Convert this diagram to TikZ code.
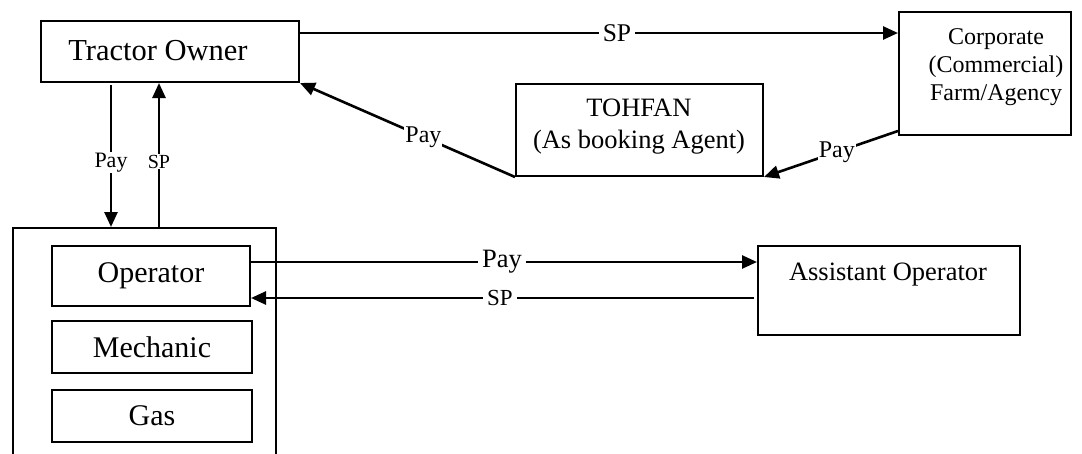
\documentclass[tikz,border=0pt]{standalone}
\usepackage{fontspec}
\setmainfont{Liberation Serif}
\usetikzlibrary{arrows.meta}
\newcommand{\fs}[1]{\fontsize{#1}{#1}\selectfont}
\begin{document}
\begin{tikzpicture}[x=1pt,y=-1pt,
  box/.style={draw,line width=2pt,rectangle,inner sep=0pt},
  txt/.style={inner sep=0pt,align=center},
  arr/.style={line width=2.6pt,-{Triangle[length=15pt,width=13pt]}},
  lab/.style={fill=white,inner xsep=4pt,inner ysep=1pt}]
\useasboundingbox (0,0) rectangle (1082,453);
% boxes
\node[box,minimum width=258pt,minimum height=61pt] (owner) at (170,51.5) {};
\node[txt,font=\fs{30.5}] (ownert) at (158,51) {Tractor Owner};
\node[box,minimum width=172pt,minimum height=123pt] (corp) at (985,73.5) {};
\node[txt,font=\fontsize{24}{28}\selectfont] (corpt) at (996,67) {Corporate\\(Commercial)\\Farm/Agency};
\node[box,minimum width=247pt,minimum height=92pt] (tohfan) at (639.5,130) {};
\node[txt,font=\fontsize{26.5}{32}\selectfont] (tohfant) at (639,127) {TOHFAN\\(As booking Agent)};
\node[box,minimum width=262pt,minimum height=89pt] (asst) at (889,290.5) {};
\node[txt,font=\fs{26.5}] (asstt) at (888,275) {Assistant Operator};
\node[box,minimum width=263pt,minimum height=260pt,anchor=north west] (outer) at (12,227) {};
\node[box,minimum width=198pt,minimum height=60pt,font=\fs{30}] (oper) at (151,276) {Operator};
\node[box,minimum width=200pt,minimum height=52pt,font=\fs{30}] (mech) at (152,347) {Mechanic};
\node[box,minimum width=200pt,minimum height=52pt,font=\fs{30}] (gas) at (152,416) {Gas};
% connectors
\draw[arr] ([yshift=18.5pt]owner.east) -- ([yshift=18.5pt]owner.east -| corp.west)
  node[lab,pos=0.53,font=\fs{25.5}] (lsp) {SP};
\draw[arr] (tohfan.south west) -- (owner.south east)
  node[lab,pos=0.426,inner xsep=1pt,inner ysep=0pt,font=\fs{24}] (lpay1) {Pay};
\draw[arr] ([yshift=5pt]corp.south west) -- (tohfan.south east)
  node[lab,pos=0.456,inner xsep=1pt,inner ysep=0pt,font=\fs{24}] (lpay2) {Pay};
\draw[arr] ([xshift=-59pt,yshift=-2pt]owner.south) -- ([xshift=-59pt]owner.south |- outer.north)
  node[lab,pos=0.545,inner xsep=1pt,font=\fs{22}] (lpay3) {Pay};
\draw[arr] ([xshift=-11pt]owner.south |- outer.north) -- ([xshift=-11pt]owner.south)
  node[lab,pos=0.455,inner xsep=1pt,font=\fs{20}] (lsp3) {SP};
\draw[arr] ([yshift=14pt]oper.east) -- ([yshift=14pt]oper.east -| asst.west)
  node[lab,pos=0.496,font=\fs{26.5}] (lpay4) {Pay};
\draw[arr] ([yshift=-22pt,xshift=-3pt]oper.east -| asst.west) -- ([yshift=-22pt]oper.east)
  node[lab,pos=0.505,font=\fs{23}] (lsp4) {SP};
\end{tikzpicture}
\end{document}
